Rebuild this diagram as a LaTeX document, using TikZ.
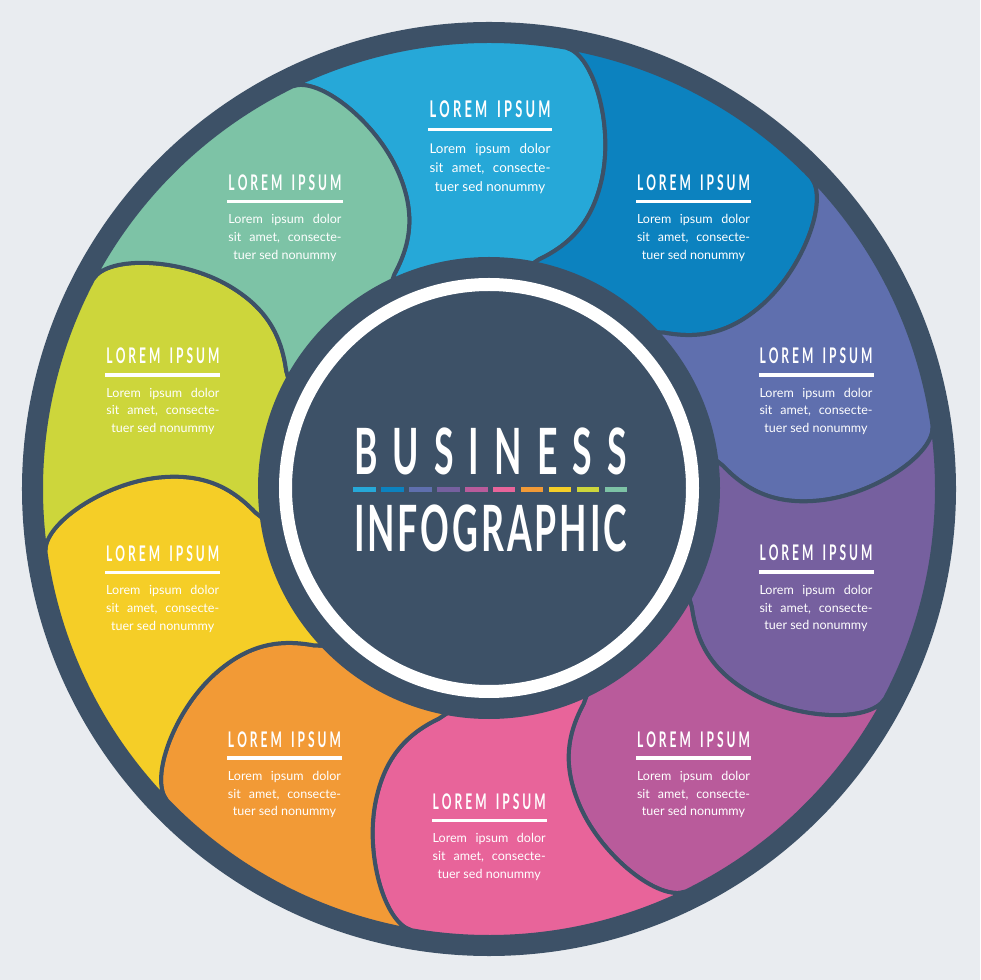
\documentclass[tikz,border=0pt]{standalone}
\usepackage{fontspec}
\usepackage{graphicx}
\setmainfont{Lato}
\newfontfamily\condfont[FakeStretch=0.55]{Lato}
\definecolor{bgc}{HTML}{E9ECF0}
\definecolor{darkc}{HTML}{3D5167}
\definecolor{c0}{HTML}{26A8D8}
\definecolor{c1}{HTML}{0C82BF}
\definecolor{c2}{HTML}{5F6FAE}
\definecolor{c3}{HTML}{76609F}
\definecolor{c4}{HTML}{B95B9B}
\definecolor{c5}{HTML}{E8649A}
\definecolor{c6}{HTML}{F29A36}
\definecolor{c7}{HTML}{F5CE27}
\definecolor{c8}{HTML}{CDD63B}
\definecolor{c9}{HTML}{7DC3A6}
\newcommand\lblock[4]{%
  \begin{scope}[shift={({#2-489},{489-#3})}, scale=#4, transform shape]
    \node[ttl] (t#1) at (0,0) {\resizebox{84.75pt}{11.8pt}{\condfont\bfseries\fontsize{16.4}{18}\selectfont\makebox[84.75pt][s]{L\hfill O\hfill R\hfill E\hfill M\hfill\hfill\hfill I\hfill P\hfill S\hfill U\hfill M}}};
    \fill[white] (-57.5,-12.65) rectangle (57.5,-9.35);
    \node[bodytext] (a#1) at (0,-33.3) {\makebox[84.75pt][s]{Lorem\hfill ipsum\hfill dolor}};
    \node[bodytext] (b#1) at (0,-51) {\makebox[84.75pt][s]{sit\hfill amet,\hfill consecte-}};
    \node[bodytext] (c#1) at (0,-68.7) {tuer sed nonummy};
  \end{scope}}
\begin{document}
\begin{tikzpicture}[x=0.75pt,y=0.75pt, line join=round,
  petal/.style={draw=darkc, line width=3pt},
  ttl/.style={inner sep=0pt, anchor=base, text=white},
  bodytext/.style={inner sep=0pt, anchor=base, text=white, font=\fontsize{9.4}{11}\selectfont}]
\fill[bgc] (-489,-491) rectangle (491,489);
\useasboundingbox (-489,-491) rectangle (491,489);
\fill[darkc] (0,0) circle (467);
\foreach \i in {0,...,9}{
  \pgfmathsetmacro\pa{90-36*\i+18}
  \pgfmathsetmacro\pb{90-36*\i-18}
  \pgfmathsetmacro\pe{\pa+8}
  \pgfmathsetmacro\ps{\pb+8}
  \path[petal, fill=c\i] ({\pa+8}:448) .. controls ({\pa+4.42}:446.3) and ({\pa-0.89}:385) .. ({\pa-2}:330.2)
     .. controls ({\pa-3.18}:286.4) and ({\pa-0.44}:258) .. ({\pa+5.69}:235) -- ({\pa+9.16}:221.6)
     -- (0,0) -- ({\pb+9.16}:221.6) -- ({\pb+5.69}:235)
     .. controls ({\pb-0.44}:258) and ({\pb-3.18}:286.4) .. ({\pb-2}:330.2)
     .. controls ({\pb-0.89}:385) and ({\pb+4.42}:446.3) .. ({\pb+8}:448)
     arc[start angle=\ps, end angle=\pe, radius=448] -- cycle;
}
\fill[darkc] (0,1) circle (231);
\draw[white, line width=9.75pt] (0,1) circle (203.5);
\foreach \k in {0,...,9}{
  \fill[c\k] ({353.3+27.93*\k-489},-3.5) rectangle +(22.5,5);
}
\node[ttl] (biz) at (1.5,14) {\resizebox{204.75pt}{35pt}{\condfont\bfseries\fontsize{48.6}{50}\selectfont\makebox[204.75pt][s]{B\hfill U\hfill S\hfill I\hfill N\hfill E\hfill S\hfill S}}};
\node[ttl] (info) at (1.5,-62.7) {\resizebox{204.75pt}{35pt}{\condfont\bfseries\fontsize{48.6}{50}\selectfont\makebox[204.75pt][s]{I\hfill N\hfill F\hfill O\hfill G\hfill R\hfill A\hfill P\hfill H\hfill I\hfill C}}};
\lblock{0}{490}{117.7}{1.07}
\lblock{1}{693.5}{190.7}{1}
\lblock{2}{816}{364}{1}
\lblock{3}{816}{561}{1}
\lblock{4}{693.5}{747}{1}
\lblock{5}{489.2}{809.3}{1}
\lblock{6}{284.5}{747}{1}
\lblock{7}{162.7}{561.7}{1}
\lblock{8}{163}{364}{1}
\lblock{9}{285}{190.7}{1}
\end{tikzpicture}
\end{document}
